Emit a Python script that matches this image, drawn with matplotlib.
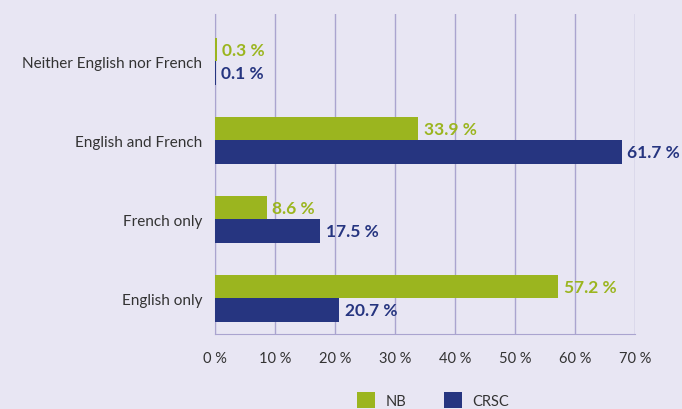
import matplotlib.pyplot as plt
import numpy as np

# data
categories = ['English only', 'French only', 'English and French', 'Neither English nor French']
nb_values = [57.2, 8.6, 33.9, 0.3]
crsc_values = [20.7, 17.5, 67.8, 0.1]   # bar length as drawn in the original
nb_labels = ['57.2 %', '8.6 %', '33.9 %', '0.3 %']
crsc_labels = ['20.7 %', '17.5 %', '61.7 %', '0.1 %']
xticks = [0, 10, 20, 30, 40, 50, 60, 70]

bg = '#e8e6f3'
green = '#9bb51f'
blue = '#263580'
grid = '#aaa4cf'

plt.rcParams['font.family'] = ['Lato', 'DejaVu Sans']

fig = plt.figure(figsize=(6.82, 4.10), dpi=100, facecolor=bg)
ax = fig.add_axes([215/682, 1 - 335/410, 420/682, 320/410], facecolor=bg)

y = np.arange(len(categories))
h = 0.3
ax.barh(y + h/2, nb_values, height=h, color=green, zorder=3, label='NB')
ax.barh(y - h/2, crsc_values, height=h, color=blue, zorder=3, label='CRSC')

for i in range(len(categories)):
    ax.annotate(nb_labels[i], (nb_values[i], y[i] + h/2), xytext=(4, 0), textcoords='offset points',
                va='center', ha='left', color=green, fontsize=12.5, fontweight='bold', annotation_clip=False)
    ax.annotate(crsc_labels[i], (crsc_values[i], y[i] - h/2), xytext=(4, 0), textcoords='offset points',
                va='center', ha='left', color=blue, fontsize=12.5, fontweight='bold', annotation_clip=False)

ax.set_xlim(0, 70)
ax.set_ylim(-0.45, 3.6)
ax.set_xticks(xticks)
ax.set_xticklabels([f'{t} %' for t in xticks], color='#333333', fontsize=10.5)
ax.set_yticks(y)
ax.set_yticklabels(categories, color='#333333', fontsize=11)
ax.tick_params(axis='both', length=0)
ax.tick_params(axis='x', pad=12)
ax.tick_params(axis='y', pad=9)
ax.grid(axis='x', color=grid, linewidth=1, zorder=0)

for s in ['top', 'right']:
    ax.spines[s].set_visible(False)
ax.spines['left'].set_color(grid)
ax.spines['bottom'].set_color(grid)

fig.legend(loc='center', bbox_to_anchor=(0.635, 0.022), ncol=2, frameon=False,
           fontsize=10.5, handlelength=1.25, handleheight=1.25, handletextpad=0.7,
           columnspacing=2.6, labelcolor='#333333')

fig.savefig('out.png', dpi=100, facecolor=bg)
